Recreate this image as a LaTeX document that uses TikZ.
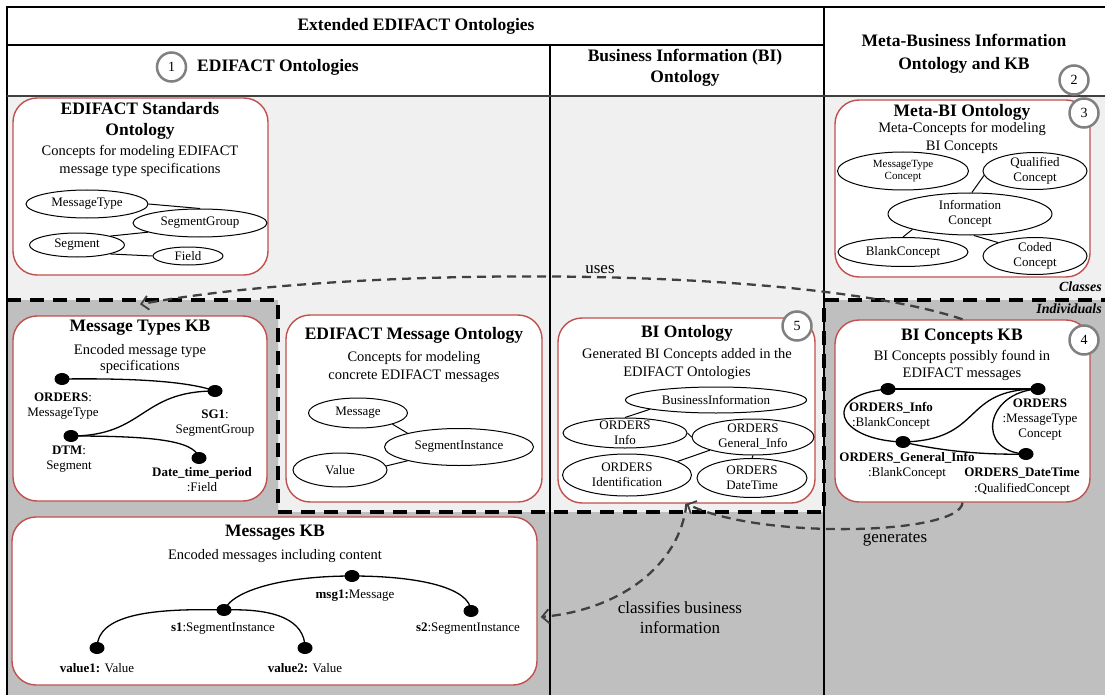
\documentclass[tikz,border=0pt]{standalone}
\usepackage{fontspec}
\setmainfont{Liberation Serif}
\usetikzlibrary{shapes.geometric,arrows.meta}
\definecolor{boxred}{HTML}{C0504D}
\definecolor{lightbg}{HTML}{F0F0F0}
\definecolor{darkbg}{HTML}{BFBFBF}
\definecolor{numgray}{HTML}{808080}
\definecolor{flowgray}{HTML}{404040}
\definecolor{rulegray}{HTML}{404040}

\begin{document}
\begin{tikzpicture}[x=1pt,y=-1pt,
  box/.style={rectangle, draw=boxred, line width=1.4pt, fill=white, rounded corners=24pt, inner sep=0pt},
  num/.style={circle, draw=numgray, line width=2.5pt, fill=white, minimum size=29pt, inner sep=0pt, font=\fontsize{14}{16}\selectfont},
  hdr/.style={font=\bfseries\fontsize{17.5}{20.5}\selectfont, align=center, inner sep=0pt},
  ttl/.style={font=\bfseries\fontsize{17.5}{21}\selectfont, align=center, inner sep=0pt},
  sub/.style={font=\fontsize{14.5}{18}\selectfont, align=center, inner sep=0pt},
  lbl/.style={font=\fontsize{13}{15}\selectfont, align=center, inner sep=0pt},
  lbls/.style={font=\fontsize{11}{12.7}\selectfont, align=center, inner sep=0pt},
  ell/.style={ellipse, draw, fill=white, line width=1pt, inner sep=0pt, label={[lbl]center:#1}},
  ells/.style={ellipse, draw, fill=white, line width=1pt, inner sep=0pt, label={[lbls]center:#1}},
  dot/.style={ellipse, fill=black, minimum width=15pt, minimum height=12pt, inner sep=0pt},
  link/.style={line width=1pt},
  kblink/.style={line width=1.3pt},
  flow/.style={draw=flowgray, line width=2.3pt, dash pattern=on 9pt off 6pt,
    -{Straight Barb[length=7pt,width=14pt,line width=1.8pt]}},
  flowlbl/.style={font=\fontsize{17}{20}\selectfont, align=center, inner sep=0pt},
  bound/.style={line width=4pt, dash pattern=on 14pt off 9pt},
  layer/.style={font=\bfseries\itshape\fontsize{14}{16}\selectfont, inner sep=0pt, anchor=east}
]
\useasboundingbox (0,0) rectangle (1105,695);

% ---------- backgrounds: classes (light) and individuals (dark) ----------
\fill[lightbg] (7,96) rectangle (1105,695);
\fill[darkbg] (7,300) -- (278,300) -- (278,512) -- (824,512) -- (824,300)
  -- (1105,300) -- (1105,695) -- (7,695) -- cycle;
\fill[white] (7,7) rectangle (1105,96);

% ---------- frame and column rules ----------
\draw[line width=1.3pt] (7,695) -- (7,7) -- (1105,7);
\draw[line width=1.3pt] (7,45) -- (824,45);
\draw[line width=1.2pt] (550,45) -- (550,695);
\draw[line width=1.2pt] (824,7) -- (824,695);
\draw[rulegray, line width=2.5pt] (7,96) -- (1105,96);

% boundary between classes and individuals
\draw[bound] (7,300) -- (278,300) -- (278,512) -- (824,512) -- (824,300) -- (1105,300);
\node[layer] (lCls) at (1102,287) {Classes};
\node[layer] (lInd) at (1102,309) {Individuals};

% ---------- column headers ----------
\node[hdr] (hExt) at (416,26) {Extended EDIFACT Ontologies};
\node[num] (n1) at (171.5,67) {1};
\node[hdr] (hEdi) at (278,67) {EDIFACT Ontologies};
\node[hdr] (hBI) at (685,68) {Business Information (BI)\\Ontology};
\node[hdr] (hMeta) at (964,53.5) {Meta-Business Information\\[2.5pt]Ontology and KB};
\node[num] (n2) at (1074,80) {2};

% ---------- EDIFACT Standards Ontology ----------
\node[box, minimum width=255pt, minimum height=177pt] (esOnt) at (140.5,186.5) {};
\node[ttl] (esT) at (140,120.5) {EDIFACT Standards\\Ontology};
\node[sub] (esS) at (140,161) {Concepts for modeling EDIFACT\\message type specifications};
\node[ell={MessageType}, minimum width=122pt, minimum height=28pt] (eMT) at (87,204) {};
\node[ell={SegmentGroup}, minimum width=134pt, minimum height=28pt] (eSG) at (200,223) {};
\node[ell={Segment}, minimum width=95pt, minimum height=24pt] (eSeg) at (77,245) {};
\node[ell={Field}, minimum width=70pt, minimum height=18pt] (eFld) at (188,256) {};
\draw[link] (eMT.east) -- (eSG.north);
\draw[link] (eSeg.15) -- (eSG.190);
\draw[link] (eSeg.345) -- (eFld.west);

% ---------- Meta-BI Ontology ----------
\node[box, minimum width=255pt, minimum height=177pt] (metaOnt) at (962.5,188.5) {};
\node[ttl] (metaT) at (962,112) {Meta-BI Ontology};
\node[sub] (metaS) at (962,138) {Meta-Concepts for modeling\\BI Concepts};
\node[ells={MessageType\\Concept}, minimum width=131pt, minimum height=38pt] (eMTC) at (903,171) {};
\node[ell={Qualified\\Concept}, minimum width=104pt, minimum height=37pt] (eQC) at (1035,171) {};
\node[ell={Information\\Concept}, minimum width=164pt, minimum height=42pt] (eIC) at (970,214) {};
\node[ell={BlankConcept}, minimum width=130pt, minimum height=29pt] (eBC) at (903,252) {};
\node[ell={Coded\\Concept}, minimum width=104pt, minimum height=37pt] (eCC) at (1035,256) {};
\draw[link] (eIC.85) -- (eQC.185);
\draw[link] (eIC.195) -- (eBC.north);
\draw[link] (eIC.280) -- (eCC.160);
\node[num] (n3) at (1084,113) {3};

% ---------- Message Types KB ----------
\node[box, minimum width=254pt, minimum height=185pt] (mtkb) at (140,408.5) {};
\node[ttl] (mtT) at (140,328) {Message Types KB};
\node[sub] (mtS) at (140,359) {Encoded message type\\[-1.5pt]specifications};
\node[dot] (dOrd) at (62,379) {};
\node[dot] (dSg1) at (215,391) {};
\node[dot] (dDtm) at (71,436) {};
\node[dot] (dDtp) at (199,458) {};
\draw[kblink] (dOrd.center) .. controls (140,378) and (190,382) .. (dSg1.center);
\draw[kblink] (dDtm.center) .. controls (145,436) and (140,391) .. (dSg1.center);
\draw[kblink] (dDtm.center) .. controls (150,436) and (195,440) .. (dDtp.center);
\node[lbl] (tOrd) at (63,406.5) {\textbf{ORDERS}:\\MessageType};
\node[lbl] (tSg1) at (215,423) {\textbf{SG1}:\\SegmentGroup};
\node[lbl] (tDtm) at (69,459.5) {\textbf{DTM}:\\Segment};
\node[lbl] (tDtp) at (202,480) {\textbf{Date\_time\_period}\\:Field};

% ---------- EDIFACT Message Ontology ----------
\node[box, minimum width=256pt, minimum height=187pt] (emOnt) at (414,408.5) {};
\node[ttl] (emT) at (414,335) {EDIFACT Message Ontology};
\node[sub] (emS) at (414,366.5) {Concepts for modeling\\concrete EDIFACT messages};
\node[ell={Message}, minimum width=99pt, minimum height=30pt] (eMsg) at (358,413) {};
\node[ell={SegmentInstance}, minimum width=149pt, minimum height=37pt] (eSI) at (459,447) {};
\node[ell={Value}, minimum width=94pt, minimum height=34pt] (eVal) at (340,470) {};
\draw[link] (eMsg.342) -- (eSI.165);
\draw[link] (eVal.5) -- (eSI.195);

% ---------- BI Ontology ----------
\node[box, minimum width=257pt, minimum height=185pt] (bio) at (686.5,410.5) {};
\node[ttl] (bioT) at (687,333) {BI Ontology};
\node[sub] (bioS) at (687,364) {Generated BI Concepts added in the\\EDIFACT Ontologies};
\node[ell={BusinessInformation}, minimum width=181pt, minimum height=26pt] (eBI) at (716,400) {};
\node[ell={ORDERS\\Info}, minimum width=124pt, minimum height=30pt] (eOI) at (625,433) {};
\node[ell={ORDERS\\General\_Info}, minimum width=122pt, minimum height=36pt] (eOG) at (753,437) {};
\node[ell={ORDERS\\Identification}, minimum width=129pt, minimum height=42pt] (eOId) at (627,475) {};
\node[ell={ORDERS\\DateTime}, minimum width=110pt, minimum height=39pt] (eODT) at (752,478) {};
\draw[link] (eBI.188) -- (eOI.north);
\draw[link] (eOI.east) -- (eOG.west);
\draw[link] (eOId.15) -- (eOG.197);
\draw[link] (eOG.south) -- (eODT.north);
\node[num] (n5) at (797,326) {5};

% ---------- BI Concepts KB ----------
\node[box, minimum width=255pt, minimum height=182pt] (bikb) at (962.5,411) {};
\node[ttl] (bikT) at (962,337) {BI Concepts KB};
\node[sub] (bikS) at (962,365.5) {BI Concepts possibly found in\\[-1pt]EDIFACT messages};
\node[dot] (dOI) at (888,389) {};
\node[dot] (dO) at (1038,389) {};
\node[dot] (dOG) at (903,442) {};
\node[dot] (dOD) at (1026,454) {};
\draw[kblink] (dOI.center) -- (dO.center);
\draw[kblink] (dOI.center) .. controls (820,395) and (835,440) .. (dOG.center);
\draw[kblink] (dO.center) .. controls (960,389) and (985,440) .. (dOG.center);
\draw[kblink] (dO.center) .. controls (985,392) and (975,452) .. (dOD.center);
\draw[kblink] (dOG.center) .. controls (945,452) and (990,455) .. (dOD.center);
\node[lbl] (tOI) at (891,416) {\textbf{ORDERS\_Info}\\:BlankConcept};
\node[lbl] (tO) at (1040,419.5) {\textbf{ORDERS}\\:MessageType\\Concept};
\node[lbl] (tOG) at (907,465.5) {\textbf{ORDERS\_General\_Info}\\:BlankConcept};
\node[lbl] (tOD) at (1022,481.5) {\textbf{ORDERS\_DateTime}\\[1pt]:QualifiedConcept};
\node[num] (n4) at (1084,340) {4};

% ---------- Messages KB ----------
\node[box, minimum width=525pt, minimum height=168pt] (mkb) at (274.5,601) {};
\node[ttl] (mkT) at (275,533) {Messages KB};
\node[sub] (mkS) at (275,556) {Encoded messages including content};
\node[dot] (dMsg) at (352,576) {};
\node[dot] (dS1) at (224,610) {};
\node[dot] (dS2) at (471,611) {};
\node[dot] (dV1) at (97,648) {};
\node[dot] (dV2) at (305,648) {};
\draw[kblink] (dS1.center) .. controls (235,588) and (290,576) .. (dMsg.center);
\draw[kblink] (dMsg.center) .. controls (420,576) and (470,588) .. (dS2.center);
\draw[kblink] (dS1.center) .. controls (150,608) and (97,615) .. (dV1.center);
\draw[kblink] (dS1.center) .. controls (275,608) and (305,620) .. (dV2.center);
\node[lbl] (tMsg) at (355,596) {\textbf{msg1:}Message};
\node[lbl] (tS1) at (223,629) {\textbf{s1}:SegmentInstance};
\node[lbl] (tS2) at (468,629) {\textbf{s2}:SegmentInstance};
\node[lbl] (tV1) at (97,668) {\textbf{value1:} Value};
\node[lbl] (tV2) at (305,668) {\textbf{value2:} Value};

% ---------- relations between the parts ----------
\draw[flow] (bikb.north) .. controls (800,265) and (350,265) .. ([yshift=11pt]mtkb.north);
\node[flowlbl] (lUses) at (600,270) {uses};
\draw[flow] (bikb.south) .. controls (960,535) and (760,540) .. (bio.south);
\node[flowlbl] (lGen) at (895,540) {generates};
\draw[flow] (bio.south) .. controls (680,565) and (620,610) .. ([shift={(3pt,-16pt)}]mkb.east);
\node[flowlbl] (lCls2) at (680,618) {classifies business\\information};
\end{tikzpicture}
\end{document}
